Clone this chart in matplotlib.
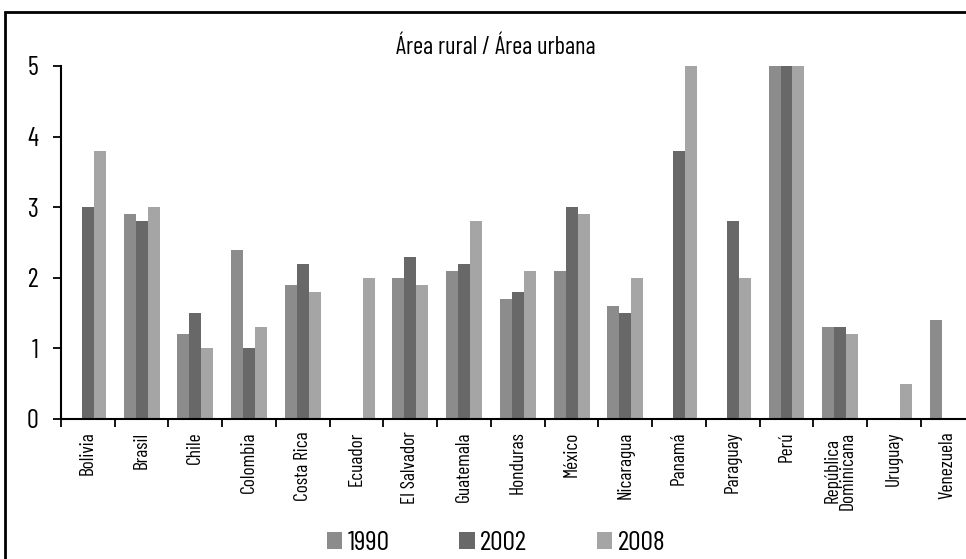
import matplotlib
matplotlib.use("Agg")
import matplotlib.pyplot as plt
import numpy as np
from matplotlib.patches import Rectangle

countries = ["Bolivia", "Brasil", "Chile", "Colombia", "Costa Rica", "Ecuador",
             "El Salvador", "Guatemala", "Honduras", "México", "Nicaragua",
             "Panamá", "Paraguay", "Perú", "República\nDominicana", "Uruguay",
             "Venezuela"]
v1990 = [0, 2.9, 1.2, 2.4, 1.9, 0, 2.0, 2.1, 1.7, 2.1, 1.6, 0, 0, 5.0, 1.3, 0, 1.4]
v2002 = [3.0, 2.8, 1.5, 1.0, 2.2, 0, 2.3, 2.2, 1.8, 3.0, 1.5, 3.8, 2.8, 5.0, 1.3, 0, 0]
v2008 = [3.8, 3.0, 1.0, 1.3, 1.8, 2.0, 1.9, 2.8, 2.1, 2.9, 2.0, 5.0, 2.0, 5.0, 1.2, 0.5, 0]
series = ["1990", "2002", "2008"]
colors = ["#8c8c8c", "#686868", "#a5a5a5"]

plt.rcParams['font.family'] = ["Barlow Condensed", "DejaVu Sans"]

W, H = 966, 559
fig = plt.figure(figsize=(W / 100, H / 100), dpi=100)
ax = fig.add_axes([61 / W, 140 / H, (W - 61) / W, 353 / H])

x = np.arange(len(countries))
bw = 0.223
for i, (vals, c, lab) in enumerate(zip([v1990, v2002, v2008], colors, series)):
    ax.bar(x + (i - 1) * bw, vals, width=bw, color=c, label=lab, linewidth=0)

ax.set_ylim(0, 5)
ax.set_xlim(-0.5, 16.34)
ax.set_yticks(range(6))
ax.set_yticklabels([str(i) for i in range(6)], fontsize=19)
ax.tick_params(axis='y', direction='out', length=6, width=1.3, pad=10)
ax.set_xticks(x)
ax.set_xticklabels(countries, rotation=90, fontsize=14, va='top', ha='center',
                   linespacing=0.8)
ax.tick_params(axis='x', which='major', length=0, pad=9)
ax.set_xticks(np.arange(-0.5, 16.5, 1.0), minor=True)
ax.tick_params(axis='x', which='minor', direction='out', length=6, width=1.3)
for s in ['top', 'right']:
    ax.spines[s].set_visible(False)
for s in ['left', 'bottom']:
    ax.spines[s].set_linewidth(1.5)

fig.text(496 / W, 1 - 47 / H, "Área rural / Área urbana", ha='center', va='center',
         fontsize=17.5)

leg = fig.legend(loc='center', bbox_to_anchor=(496 / W, 1 - 543 / H), ncol=3,
                 frameon=False, fontsize=20, handlelength=0.55, handleheight=0.55,
                 handletextpad=0.2, columnspacing=2.5, borderpad=0.0)

fig.patches.append(Rectangle((5 / W, -0.1), 2.0, (H - 12) / H + 0.1,
                             transform=fig.transFigure, fill=False,
                             edgecolor='black', linewidth=2))

fig.savefig("out.png", dpi=100)
